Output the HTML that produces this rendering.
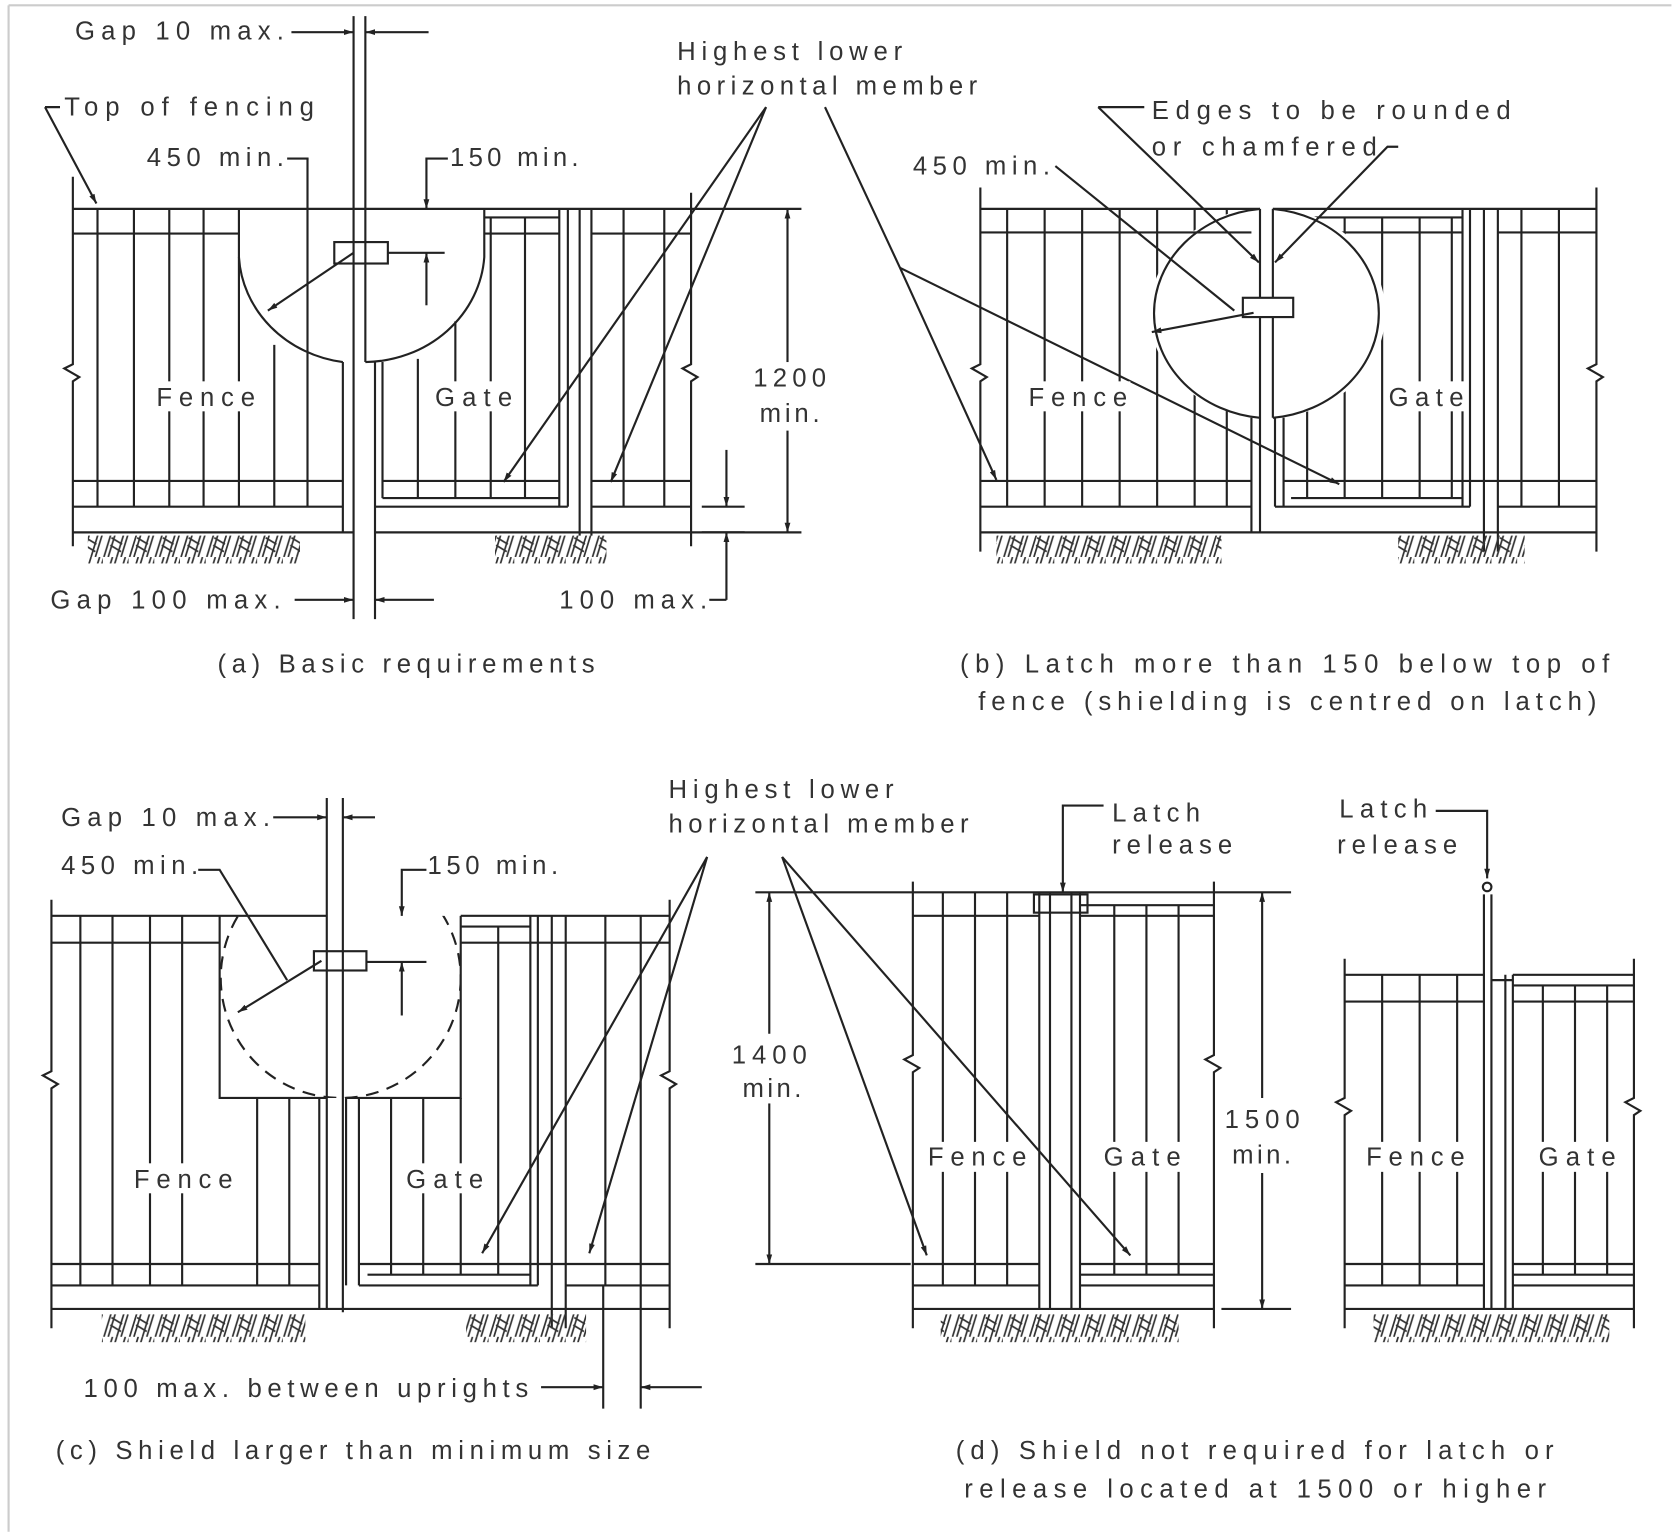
<!DOCTYPE html>
<html><head><meta charset="utf-8"><style>
html,body{margin:0;padding:0;background:#fff;}
svg{display:block;}
text{font-family:"Liberation Sans",sans-serif;font-size:24px;fill:#333;}
</style></head><body>
<svg width="1680" height="1535" viewBox="0 0 1568 1433" preserveAspectRatio="none" xmlns="http://www.w3.org/2000/svg">
<defs>
<marker id="ar" viewBox="0 0 10 10" refX="10" refY="5" markerWidth="9" markerHeight="9" orient="auto-start-reverse" markerUnits="userSpaceOnUse"><path d="M0,2 L10,5 L0,8 z" fill="#222"/></marker>
<pattern id="hat" width="24" height="26" patternUnits="userSpaceOnUse">
<path d="M1,26 L9,0 M5,26 L13,0 M13,26 L21,0 M17,26 L25,0 M8,8 L18,14 M7,15 L17,21" stroke="#333" stroke-width="1.6" fill="none"/>
</pattern>
<mask id="mb"><rect x="0" y="0" width="1568" height="1433" fill="#fff"/><ellipse cx="1183" cy="292" rx="110" ry="98" fill="#000"/></mask>
<clipPath id="cc"><rect x="205" y="855" width="225" height="170"/></clipPath>
</defs>
<rect width="1568" height="1433" fill="#fff"/>
<path d="M8,5 H1560 M8,5 V1430" stroke="#ccc" stroke-width="2" fill="none"/>

<g stroke="#222" stroke-width="2" fill="none">
<!-- ============ PANEL A ============ -->
<path d="M68,165 V340 l-8,4 l14,8 l-6,4 V510"/>
<path d="M645,180 V340 l-8,4 l14,8 l-6,4 V510"/>
<path d="M68,195 H748"/>
<path d="M68,218 H223 M552,218 H645"/>
<path d="M91,195 V473 M125,195 V473 M158,195 V473 M190,195 V473 M223,195 V473 M256,322 V473 M287,148 V473"/>
<path d="M223,240 A113,105 0 0 0 320,338 M341,338 A113,105 0 0 0 452,240 V195"/>
<path d="M320,338 V497 M330,15 V578 M341,15 V338 M350,338 V578 M357,338 V465"/>
<path d="M390,335 V465 M425,300 V465 M458,203 V465 M490,203 V465"/>
<path d="M452,203 H522 M452,218 H522 M522,195 V473 M530,195 V473 M541,195 V500 M552,195 V500"/>
<path d="M582,195 V473 M620,195 V473"/>
<path d="M68,449 H320 M357,449 H522 M552,449 H645 M68,473 H320 M552,473 H645 M357,465 H522 M350,473 H530 M68,497 H330 M350,497 H748"/>
<rect x="312" y="226" width="50" height="20"/>
<path d="M330,236 L250,290" marker-end="url(#ar)"/>
<path d="M362,236 H415"/>
<path d="M418,148 H398 V195" marker-end="url(#ar)"/>
<path d="M398,236 V285" marker-start="url(#ar)"/>
<path d="M268,148 H288"/>
<path d="M272,30 H330" marker-end="url(#ar)"/><path d="M400,30 H341" marker-end="url(#ar)"/>
<path d="M42,100 H56 M42,100 L90,190" marker-end="url(#ar)"/>
<path d="M275,560 H330" marker-end="url(#ar)"/><path d="M405,560 H350" marker-end="url(#ar)"/>
<path d="M735,340 V195" marker-end="url(#ar)"/><path d="M735,400 V497" marker-end="url(#ar)"/>
<path d="M655,473 H695 M655,497 H695"/>
<path d="M678,420 V473" marker-end="url(#ar)"/><path d="M678,560 V497" marker-end="url(#ar)"/>
<path d="M662,560 H678"/>
<path d="M715,100 L470,450" marker-end="url(#ar)"/><path d="M715,100 L570,450" marker-end="url(#ar)"/>
<path d="M770,100 L840,250 L930,448" marker-end="url(#ar)"/><path d="M840,250 L1250,452" marker-end="url(#ar)"/>

<!-- ============ PANEL B ============ -->
<path d="M915,175 V340 l-8,4 l14,8 l-6,4 V515"/>
<path d="M1490,175 V340 l-8,4 l14,8 l-6,4 V515"/>
<path d="M915,195 H1176 M1188,195 H1490 M915,217 H1168 M1398,217 H1490"/>
<g mask="url(#mb)">
<path d="M940,195 V473 M975,195 V473 M1010,195 V473 M1045,195 V473 M1080,195 V473 M1115,195 V473 M1145,195 V473"/>
<path d="M1198,203 H1365 M1198,217 H1365 M1220,203 V465 M1255,203 V465 M1290,203 V465 M1325,203 V465 M1355,203 V465"/>
</g>
<path d="M1176,195 A110,98 0 0 0 1176,390 M1188,390 A110,98 0 0 0 1188,195"/>
<path d="M1176,195 V497 M1188,195 V390 M1168,390 V497 M1190,390 V473 M1198,390 V473"/>
<path d="M1365,195 V473 M1372,195 V473 M1385,195 V515 M1398,195 V515 M1420,195 V473 M1455,195 V473"/>
<path d="M915,449 H1168 M1198,449 H1490 M915,473 H1168 M1398,473 H1490 M1205,465 H1365 M1190,473 H1372 M915,497 H1490"/>
<rect x="1160" y="278" width="47" height="18" fill="#fff"/>
<path d="M1170,292 L1075,310" marker-end="url(#ar)"/>
<path d="M985,155 L1152,290"/>
<path d="M1025,100 H1068 M1025,100 L1175,245" marker-end="url(#ar)"/>
<path d="M1305,137 H1295 L1190,245" marker-end="url(#ar)"/>

<!-- ============ PANEL C ============ -->
<path d="M48,840 V1000 l-8,4 l14,8 l-6,4 V1240"/>
<path d="M625,840 V1000 l-8,4 l14,8 l-6,4 V1240"/>
<path d="M48,855 H305 M430,855 H625 M48,880 H205 M430,880 H625 M430,865 H495"/>
<path d="M205,855 V1025 H305 M323,1025 H430 V855"/>
<circle cx="318" cy="913" r="112" stroke-dasharray="12,8" clip-path="url(#cc)"/>
<path d="M75,855 V1200 M105,855 V1200 M140,855 V1200 M170,855 V1200 M240,1025 V1200 M270,1025 V1200"/>
<path d="M298,1025 V1222 M305,745 V1222 M320,745 V1225 M323,1025 V1200 M335,1025 V1200"/>
<path d="M365,1025 V1190 M395,1025 V1190 M430,1025 V1190 M465,865 V1190 M495,855 V1200 M502,855 V1200 M515,855 V1240 M528,855 V1240 M565,855 V1200 M598,855 V1200"/>
<path d="M48,1180 H298 M335,1180 H625 M48,1200 H298 M528,1200 H625 M343,1190 H495 M335,1200 H502 M48,1222 H625"/>
<rect x="293" y="888" width="49" height="18"/>
<path d="M300,897 L222,945" marker-end="url(#ar)"/>
<path d="M185,812 H205 L268,915"/>
<path d="M342,898 H398"/>
<path d="M398,812 H375 V855" marker-end="url(#ar)"/><path d="M375,898 V948" marker-start="url(#ar)"/>
<path d="M255,763 H305" marker-end="url(#ar)"/><path d="M350,763 H320" marker-end="url(#ar)"/>
<path d="M563,1200 V1315 M598,1200 V1315"/>
<path d="M505,1295 H563" marker-end="url(#ar)"/><path d="M655,1295 H598" marker-end="url(#ar)"/>
<path d="M660,800 L450,1170" marker-end="url(#ar)"/><path d="M660,800 L550,1170" marker-end="url(#ar)"/>
<path d="M730,800 L865,1172" marker-end="url(#ar)"/><path d="M730,800 L1055,1172" marker-end="url(#ar)"/>

<!-- ============ PANEL D left ============ -->
<path d="M852,823 V985 l-8,4 l14,8 l-6,4 V1240"/>
<path d="M1133,823 V985 l-8,4 l14,8 l-6,4 V1240"/>
<path d="M705,833 H1205 M852,855 H970 M1008,855 H1133 M1008,845 H1133"/>
<path d="M880,833 V1200 M910,833 V1200 M940,833 V1200 M1040,845 V1190 M1070,845 V1190 M1100,845 V1190"/>
<path d="M970,833 V1222 M980,833 V1222 M1000,833 V1222 M1008,833 V1222"/>
<path d="M705,1180 H850 M852,1180 H970 M1008,1180 H1133 M852,1200 H970 M1008,1190 H1133 M1008,1200 H1133 M852,1222 H1133 M1140,1222 H1205"/>
<rect x="965" y="835" width="50" height="17"/>
<path d="M1030,752 H992 V833" marker-end="url(#ar)"/>
<path d="M718,965 V833" marker-end="url(#ar)"/><path d="M718,1030 V1180" marker-end="url(#ar)"/>
<path d="M1178,1025 V833" marker-end="url(#ar)"/><path d="M1178,1095 V1222" marker-end="url(#ar)"/>

<!-- ============ PANEL D right ============ -->
<path d="M1255,895 V1025 l-8,4 l14,8 l-6,4 V1240"/>
<path d="M1525,895 V1025 l-8,4 l14,8 l-6,4 V1240"/>
<path d="M1255,910 H1385 M1392,915 H1412 M1412,910 H1525 M1255,935 H1385 M1412,920 H1525 M1412,935 H1525"/>
<path d="M1290,910 V1200 M1325,910 V1200 M1360,910 V1200 M1440,920 V1190 M1470,920 V1190 M1500,920 V1190"/>
<path d="M1385,835 V1222 M1392,835 V1222 M1405,910 V1222 M1412,910 V1222"/>
<path d="M1255,1180 H1385 M1412,1180 H1525 M1255,1200 H1385 M1412,1190 H1525 M1412,1200 H1525 M1255,1222 H1525"/>
<circle cx="1388" cy="828" r="4"/>
<path d="M1340,757 H1388 V820" marker-end="url(#ar)"/>
</g>

<!-- hatching -->
<g fill="url(#hat)">
<rect x="82" y="500" width="198" height="26"/>
<rect x="462" y="500" width="104" height="26"/>
<rect x="930" y="500" width="210" height="26"/>
<rect x="1305" y="500" width="118" height="26"/>
<rect x="95" y="1227" width="190" height="26"/>
<rect x="435" y="1227" width="112" height="26"/>
<rect x="878" y="1227" width="222" height="26"/>
<rect x="1282" y="1227" width="220" height="26"/>
</g>

<g fill="#fff">
<rect x="143" y="356" width="98" height="28"/><rect x="403" y="356" width="78" height="28"/>
<rect x="957" y="356" width="98" height="28"/><rect x="1293" y="356" width="76" height="28"/>
<rect x="122" y="1086" width="98" height="28"/><rect x="376" y="1086" width="78" height="28"/>
<rect x="863" y="1066" width="98" height="28"/><rect x="1027" y="1066" width="78" height="28"/>
<rect x="1272" y="1066" width="98" height="28"/><rect x="1433" y="1066" width="78" height="28"/>
<rect x="700" y="338" width="72" height="64"/><rect x="680" y="968" width="76" height="62"/><rect x="1140" y="1028" width="76" height="66"/>
</g>

<!-- TEXT -->
<text x="70" y="37" textLength="195" lengthAdjust="spacing">Gap 10 max.</text>
<text x="60" y="108" textLength="233" lengthAdjust="spacing">Top of fencing</text>
<text x="137" y="155" textLength="128" lengthAdjust="spacing">450 min.</text>
<text x="420" y="155" textLength="120" lengthAdjust="spacing">150 min.</text>
<text x="632" y="56" textLength="210" lengthAdjust="spacing">Highest lower</text>
<text x="632" y="88" textLength="280" lengthAdjust="spacing">horizontal member</text>
<text x="146" y="379" textLength="92" lengthAdjust="spacing">Fence</text>
<text x="406" y="379" textLength="72" lengthAdjust="spacing">Gate</text>
<text x="703" y="361" textLength="68" lengthAdjust="spacing">1200</text>
<text x="709" y="394" textLength="56" lengthAdjust="spacing">min.</text>
<text x="47" y="568" textLength="215" lengthAdjust="spacing">Gap 100 max.</text>
<text x="522" y="568" textLength="138" lengthAdjust="spacing">100 max.</text>
<text x="203" y="628" textLength="352" lengthAdjust="spacing">(a) Basic requirements</text>

<text x="1075" y="111" textLength="335" lengthAdjust="spacing">Edges to be rounded</text>
<text x="1075" y="145" textLength="210" lengthAdjust="spacing">or chamfered</text>
<text x="852" y="163" textLength="128" lengthAdjust="spacing">450 min.</text>
<text x="960" y="379" textLength="92" lengthAdjust="spacing">Fence</text>
<text x="1296" y="379" textLength="70" lengthAdjust="spacing">Gate</text>
<text x="896" y="628" textLength="606" lengthAdjust="spacing">(b) Latch more than 150 below top of</text>
<text x="913" y="663" textLength="577" lengthAdjust="spacing">fence (shielding is centred on latch)</text>

<text x="57" y="771" textLength="195" lengthAdjust="spacing">Gap 10 max.</text>
<text x="57" y="816" textLength="128" lengthAdjust="spacing">450 min.</text>
<text x="399" y="816" textLength="122" lengthAdjust="spacing">150 min.</text>
<text x="624" y="745" textLength="210" lengthAdjust="spacing">Highest lower</text>
<text x="624" y="777" textLength="280" lengthAdjust="spacing">horizontal member</text>
<text x="125" y="1109" textLength="92" lengthAdjust="spacing">Fence</text>
<text x="379" y="1109" textLength="72" lengthAdjust="spacing">Gate</text>
<text x="78" y="1304" textLength="415" lengthAdjust="spacing">100 max. between uprights</text>
<text x="52" y="1362" textLength="555" lengthAdjust="spacing">(c) Shield larger than minimum size</text>

<text x="1038" y="767" textLength="82" lengthAdjust="spacing">Latch</text>
<text x="1038" y="797" textLength="112" lengthAdjust="spacing">release</text>
<text x="683" y="993" textLength="70" lengthAdjust="spacing">1400</text>
<text x="693" y="1024" textLength="55" lengthAdjust="spacing">min.</text>
<text x="866" y="1088" textLength="92" lengthAdjust="spacing">Fence</text>
<text x="1030" y="1088" textLength="72" lengthAdjust="spacing">Gate</text>
<text x="1143" y="1053" textLength="70" lengthAdjust="spacing">1500</text>
<text x="1150" y="1086" textLength="55" lengthAdjust="spacing">min.</text>
<text x="1250" y="763" textLength="82" lengthAdjust="spacing">Latch</text>
<text x="1248" y="797" textLength="112" lengthAdjust="spacing">release</text>
<text x="1275" y="1088" textLength="92" lengthAdjust="spacing">Fence</text>
<text x="1436" y="1088" textLength="72" lengthAdjust="spacing">Gate</text>
<text x="892" y="1362" textLength="558" lengthAdjust="spacing">(d) Shield not required for latch or</text>
<text x="900" y="1398" textLength="543" lengthAdjust="spacing">release located at 1500 or higher</text>
</svg>
</body></html>
